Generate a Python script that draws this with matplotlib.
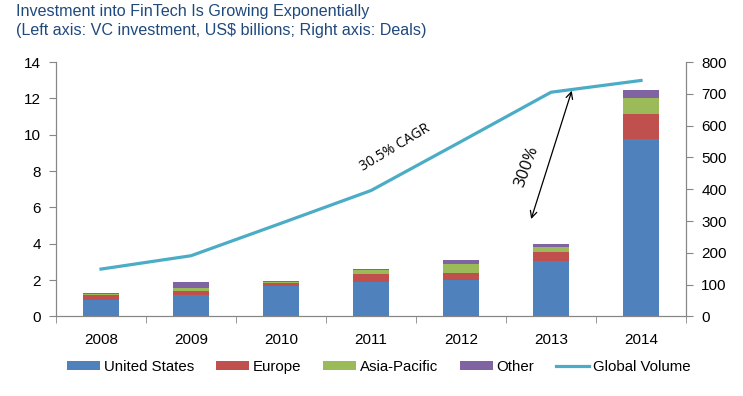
import numpy as np
import matplotlib.pyplot as plt
from matplotlib.patches import Patch
from matplotlib.lines import Line2D

years = ['2008', '2009', '2010', '2011', '2012', '2013', '2014']
united_states = [0.93, 1.16, 1.68, 1.88, 2.03, 3.04, 9.76]
europe = [0.25, 0.24, 0.14, 0.48, 0.37, 0.50, 1.38]
asia_pacific = [0.05, 0.18, 0.09, 0.18, 0.51, 0.27, 0.89]
other = [0.04, 0.30, 0.02, 0.06, 0.22, 0.20, 0.44]
global_volume = [149, 191, 293, 396, 550, 705, 742]

series_names = ['United States', 'Europe', 'Asia-Pacific', 'Other']
colors = ['#4F81BD', '#C0504D', '#9BBB59', '#8064A2']
line_color = '#4BACC6'
axis_color = '#868686'

plt.rcParams['font.family'] = ['Liberation Sans', 'DejaVu Sans']

fig = plt.figure(figsize=(7.43, 3.96), dpi=100)
ax = fig.add_axes([0.0754, 0.2008, 0.8479, 0.6426])
ax2 = ax.twinx()

# stacked bars (left axis)
x = np.arange(len(years))
bottom = np.zeros(len(years))
for vals, col in zip([united_states, europe, asia_pacific, other], colors):
    ax.bar(x, vals, width=0.39, bottom=bottom, color=col, zorder=2)
    bottom += np.array(vals)

# deals line (right axis)
ax2.plot(x, global_volume, color=line_color, lw=2.3, zorder=3)

ax.set_xlim(-0.5, 6.5)
ax.set_ylim(0, 14)
ax.set_yticks(range(0, 15, 2))
ax2.set_ylim(0, 800)
ax2.set_yticks(range(0, 801, 100))

ax.set_xticks(x)
ax.set_xticklabels(years)
ax.set_xticks(np.arange(-0.5, 7, 1), minor=True)
ax.tick_params(axis='x', which='major', length=0, pad=12, labelsize=11)
ax.tick_params(axis='x', which='minor', length=5, color=axis_color)

for a in (ax, ax2):
    a.tick_params(axis='y', length=5, color=axis_color, labelsize=11, pad=6)
    a.spines['top'].set_visible(False)
    for s in ('left', 'right', 'bottom'):
        a.spines[s].set_color(axis_color)

# annotations
ax2.text(3.27, 532, '30.5% CAGR', rotation=31, ha='center', va='center',
         fontsize=10, family=['Open Sans', 'DejaVu Sans'])
ax2.annotate('', xy=(5.24, 718), xytext=(4.77, 298),
             arrowprops=dict(arrowstyle='<->', color='black', lw=0.9,
                             mutation_scale=12))
ax2.text(4.73, 470, '300%', rotation=70, ha='center', va='center',
         fontsize=12, family=['Open Sans', 'DejaVu Sans'])

# title
fig.text(0.022, 0.99, 'Investment into FinTech Is Growing Exponentially\n'
         '(Left axis: VC investment, US$ billions; Right axis: Deals)',
         ha='left', va='top', fontsize=11.6, color='#1F497D', linespacing=1.3)

# legend
handles = [Patch(facecolor=c, edgecolor='none') for c in colors]
handles.append(Line2D([0], [0], color=line_color, lw=2.3))
fig.legend(handles, series_names + ['Global Volume'], loc='center',
           bbox_to_anchor=(0.51, 0.073), ncol=5, frameon=False,
           prop={'size': 10.8}, handlelength=2.2,
           handleheight=0.55, handletextpad=0.25, columnspacing=1.45)

fig.savefig('out.png', dpi=100)
